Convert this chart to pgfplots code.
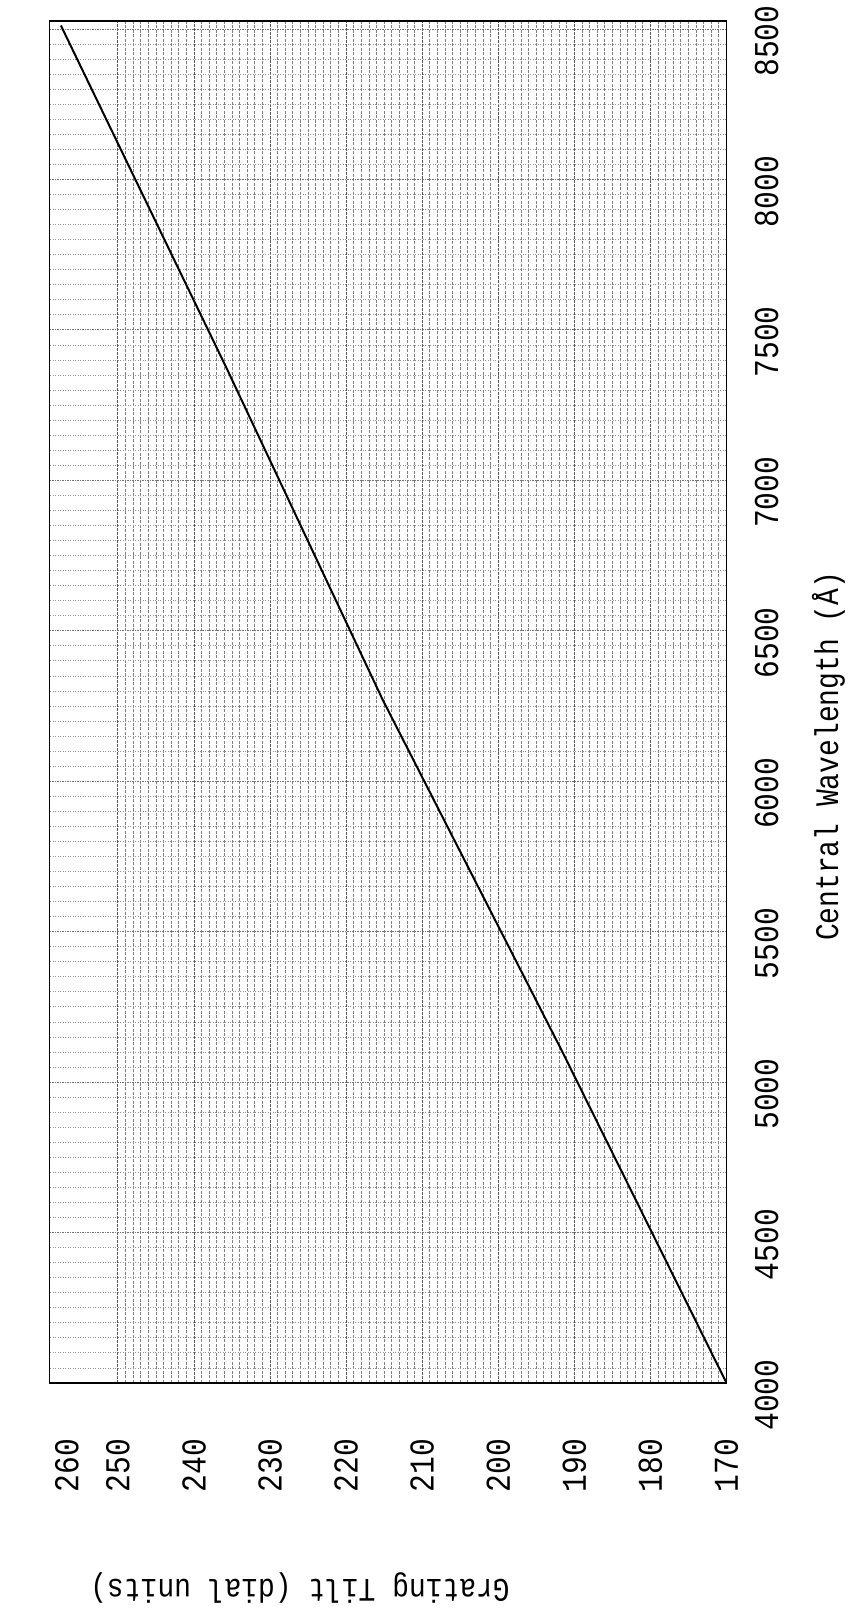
\documentclass[border=0pt]{standalone}
\usepackage{fontspec}
\setmainfont{Liberation Mono}
\newfontfamily\plotfont[FakeStretch=0.85]{Liberation Mono}
\usepackage{pgfplots}
\pgfplotsset{compat=1.18}
\begin{document}
\begin{tikzpicture}
\path[use as bounding box] (0,0) rectangle (850bp,1608bp);
\begin{axis}[
  at={(49.5bp,225bp)}, anchor=south west,
  width=677bp, height=1362bp, scale only axis,
  x dir=reverse,
  xmin=170, xmax=259, ymin=4000, ymax=8527,
  xtick={170,180,...,250},
  ytick={4000,4500,...,8500},
  extra x ticks={256.7}, extra x tick labels={260},
  extra x tick style={grid=none},
  minor x tick num=9, minor y tick num=9,
  grid=both,
  major tick length=0pt, minor tick length=0pt,
  yticklabel pos=right,
  scaled ticks=false,
  /pgf/number format/1000 sep={},
  /pgf/number format/assume math mode=true,
  ticklabel style={font=\fontsize{35}{35}\selectfont\plotfont},
  xticklabel style={yshift=-56bp, rotate=90, anchor=east, inner sep=0pt},
  yticklabel style={xshift=28bp, yshift=-12bp, rotate=90, anchor=north, inner sep=0pt},
  label style={font=\fontsize{33}{33}\selectfont\plotfont},
  xlabel={Grating Tilt (dial units)},
  ylabel={Central Wavelength (Å)},
  xlabel style={at={(axis description cs:0.37,-0.1505)}, anchor=center, rotate=180},
  ylabel style={at={(axis description cs:1.1507,0.46)}, anchor=center},
  minor x grid style={black!50, line width=0.9bp, dash pattern=on 3bp off 1.5bp},
  minor y grid style={black!42, line width=0.9bp, dash pattern=on 1bp off 1.5bp},
  major x grid style={black!65, line width=1bp, dash pattern=on 3bp off 1bp},
  major y grid style={black!55, line width=1bp, dash pattern=on 1.5bp off 1bp},
  axis line style={black, line width=1.2bp},
]
\addplot[black, line width=2bp] coordinates {(170,4000) (191.7,5107) (215.2,6271) (235.7,7372) (257.5,8512)};
\end{axis}
\end{tikzpicture}
\end{document}
